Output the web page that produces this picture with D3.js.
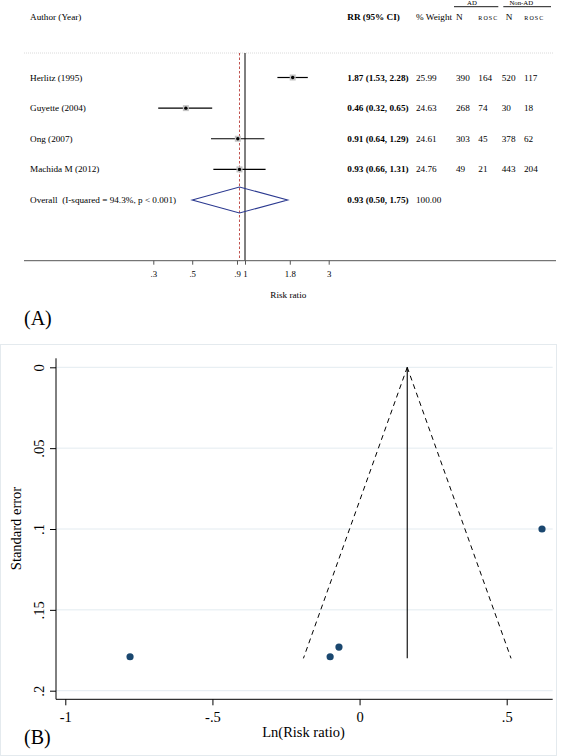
<!DOCTYPE html>
<html>
<head>
<meta charset="utf-8">
<script src="https://cdn.jsdelivr.net/npm/d3@7"></script>
<style>
  body { margin: 0; background: #fff; }
  text { font-family: "Liberation Serif", "Times New Roman", serif; fill: #000; }
</style>
</head>
<body>
<div id="chart"></div>
<script>
/* data for panel (A), forest plot */
var studies = ["Herlitz (1995)", "Guyette (2004)", "Ong (2007)", "Machida M (2012)"];
var rr = [1.87, 0.46, 0.91, 0.93];
var rrLow = [1.53, 0.32, 0.64, 0.66];
var rrHigh = [2.28, 0.65, 1.29, 1.31];
var weights = ["25.99", "24.63", "24.61", "24.76"];
var adN = [390, 268, 303, 49];
var adRosc = [164, 74, 45, 21];
var nonAdN = [520, 30, 378, 443];
var nonAdRosc = [117, 18, 62, 204];
var overallLabel = "Overall  (I-squared = 94.3%, p < 0.001)";
var overallRR = [0.93, 0.50, 1.75];   // estimate, low, high
var overallWeight = "100.00";
var forestTicks = [0.3, 0.5, 0.9, 1, 1.8, 3];

/* data for panel (B), funnel plot */
var lnRR = [0.62, -0.78, -0.10, -0.07];
var stdErr = [0.100, 0.179, 0.179, 0.173];
var pooledLn = 0.162;
var funnelMaxSE = 0.18;
var funnelXTicks = [-1, -0.5, 0, 0.5];
var funnelYTicks = [0, 0.05, 0.1, 0.15, 0.2];

var W = 567, H = 756;
var svg = d3.select("#chart").append("svg")
    .attr("width", W)
    .attr("height", H);

drawForest(svg);
drawFunnel(svg);

/*
 * Panel (A): forest plot with the study table on the right
 */
function drawForest(svg){
    var g = svg.append("g");
    var x = d3.scaleLog().domain([0.3, 3]).range([153.3, 328.7]);
    var rowY = d3.scalePoint().domain(d3.range(5)).range([77.5, 200]);
    var top = 53, axisY = 260.7;
    var fs = 9.2;

    // header
    g.append("text").attr("x", 30).attr("y", 20).attr("font-size", fs).text("Author (Year)");
    g.append("text").attr("x", 347.3).attr("y", 20).attr("font-size", fs)
        .attr("font-weight", "bold").text("RR (95% CI)");
    g.append("text").attr("x", 416).attr("y", 20).attr("font-size", fs).text("% Weight");
    g.append("text").attr("x", 456).attr("y", 20).attr("font-size", fs).text("N");
    g.append("text").attr("x", 505.7).attr("y", 20).attr("font-size", fs).text("N");
    [478.3, 524.3].forEach(function(px){
        g.append("text").attr("x", px).attr("y", 19.5).attr("font-size", 6)
            .attr("letter-spacing", 1.1).text("ROSC");
    });
    g.append("text").attr("x", 472).attr("y", 5).attr("font-size", 6.8)
        .attr("text-anchor", "middle").text("AD");
    g.append("text").attr("x", 521.3).attr("y", 5).attr("font-size", 6.8)
        .attr("text-anchor", "middle").text("Non-AD");
    g.append("line").attr("x1", 454).attr("x2", 498.3).attr("y1", 6.7).attr("y2", 6.7)
        .attr("stroke", "#000").attr("stroke-width", 0.9);
    g.append("line").attr("x1", 503.3).attr("x2", 551).attr("y1", 6.7).attr("y2", 6.7)
        .attr("stroke", "#000").attr("stroke-width", 0.9);

    // separator below header
    g.append("line").attr("x1", 24).attr("x2", 554).attr("y1", top).attr("y2", top)
        .attr("stroke", "#d0d0d0").attr("stroke-width", 0.8).attr("stroke-dasharray", "1,1");

    // no-effect line and overall line
    g.append("line").attr("x1", x(1)).attr("x2", x(1)).attr("y1", top).attr("y2", axisY)
        .attr("stroke", "#000").attr("stroke-width", 1);
    g.append("line").attr("x1", x(overallRR[0])).attr("x2", x(overallRR[0]))
        .attr("y1", top).attr("y2", axisY)
        .attr("stroke", "#c0504d").attr("stroke-width", 1).attr("stroke-dasharray", "2.5,2");

    // study rows
    var rows = studies.map(function(s, i){
        return {label: s, rr: rr[i], lo: rrLow[i], hi: rrHigh[i], w: weights[i],
                cells: [adN[i], adRosc[i], nonAdN[i], nonAdRosc[i]], i: i};
    });

    g.selectAll(".ci").data(rows).enter().append("line")
        .attr("x1", function(d){ return x(d.lo); })
        .attr("x2", function(d){ return x(d.hi); })
        .attr("y1", function(d){ return rowY(d.i); })
        .attr("y2", function(d){ return rowY(d.i); })
        .attr("stroke", "#000").attr("stroke-width", 1.2);
    g.selectAll(".box").data(rows).enter().append("rect")
        .attr("x", function(d){ return x(d.rr) - 3; })
        .attr("y", function(d){ return rowY(d.i) - 3; })
        .attr("width", 6).attr("height", 6)
        .attr("fill", "#c4c4c4");
    g.selectAll(".dot").data(rows).enter().append("circle")
        .attr("cx", function(d){ return x(d.rr); })
        .attr("cy", function(d){ return rowY(d.i); })
        .attr("r", 1.7).attr("fill", "#000");

    var cellX = [456, 478.3, 501.7, 524];
    rows.forEach(function(d){
        var y = rowY(d.i) + 3;
        g.append("text").attr("x", 30).attr("y", y).attr("font-size", fs).text(d.label);
        g.append("text").attr("x", 347.3).attr("y", y).attr("font-size", fs)
            .attr("font-weight", "bold")
            .text(d.rr.toFixed(2) + " (" + d.lo.toFixed(2) + ", " + d.hi.toFixed(2) + ")");
        g.append("text").attr("x", 416).attr("y", y).attr("font-size", fs).text(d.w);
        d.cells.forEach(function(v, k){
            g.append("text").attr("x", cellX[k]).attr("y", y).attr("font-size", fs).text(v);
        });
    });

    // overall diamond
    var oy = rowY(4);
    var diamond = [[x(overallRR[1]), oy], [x(overallRR[0]), oy - 13],
                   [x(overallRR[2]), oy], [x(overallRR[0]), oy + 13]];
    g.append("polygon")
        .attr("points", diamond.map(function(p){ return p.join(","); }).join(" "))
        .attr("fill", "none").attr("stroke", "#2b3990").attr("stroke-width", 1.1);
    g.append("text").attr("x", 30).attr("y", oy + 3).attr("font-size", fs)
        .style("white-space", "pre").text(overallLabel);
    g.append("text").attr("x", 347.3).attr("y", oy + 3).attr("font-size", fs)
        .attr("font-weight", "bold")
        .text(overallRR[0].toFixed(2) + " (" + overallRR[1].toFixed(2) + ", " + overallRR[2].toFixed(2) + ")");
    g.append("text").attr("x", 416).attr("y", oy + 3).attr("font-size", fs).text(overallWeight);

    // axis
    g.append("line").attr("x1", 24).attr("x2", 556).attr("y1", axisY).attr("y2", axisY)
        .attr("stroke", "#555").attr("stroke-width", 1);
    var ax = g.append("g").attr("transform", "translate(0," + axisY + ")")
        .call(d3.axisBottom(x).tickValues(forestTicks).tickSize(4)
            .tickFormat(function(d){ return String(d).replace(/^0\./, "."); }));
    ax.select(".domain").remove();
    ax.selectAll("line").attr("stroke", "#555");
    ax.selectAll("text").attr("font-family", "Liberation Serif").attr("font-size", 8.8)
        .attr("y", 10).attr("dy", "0.71em").attr("fill", "#000");
    g.append("text").attr("x", 288.3).attr("y", 297.5).attr("font-size", fs)
        .attr("text-anchor", "middle").text("Risk ratio");

    svg.append("text").attr("x", 24).attr("y", 325).attr("font-size", 20).text("(A)");
}

/*
 * Panel (B): funnel plot of Ln(RR) against its standard error
 */
function drawFunnel(svg){
    var g = svg.append("g");
    var x = d3.scaleLinear().domain([-1, 0.5]).range([65.3, 506.7]);
    var y = d3.scaleLinear().domain([0, 0.2]).range([367.3, 690.7]);
    var left = 56, right = 552.7, bottom = 699.3, top = 358.3;
    var fmt = function(d){ return d === 0 ? "0" : String(d).replace("0.", "."); };

    // faint outer frame
    g.append("rect").attr("x", 0.5).attr("y", 344.5).attr("width", 556).attr("height", 411)
        .attr("fill", "none").attr("stroke", "#e4eaee").attr("stroke-width", 1);

    // gridlines
    g.selectAll(".grid").data(funnelYTicks).enter().append("line")
        .attr("x1", left).attr("x2", right)
        .attr("y1", function(d){ return y(d); })
        .attr("y2", function(d){ return y(d); })
        .attr("stroke", "#e3ebf0").attr("stroke-width", 1);

    // pseudo 95% limits
    var apex = [x(pooledLn), y(0)];
    g.append("line").attr("x1", apex[0]).attr("y1", apex[1])
        .attr("x2", x(pooledLn - 1.96 * funnelMaxSE)).attr("y2", y(funnelMaxSE))
        .attr("stroke", "#000").attr("stroke-width", 1).attr("stroke-dasharray", "5,4");
    g.append("line").attr("x1", apex[0]).attr("y1", apex[1])
        .attr("x2", x(pooledLn + 1.96 * funnelMaxSE)).attr("y2", y(funnelMaxSE))
        .attr("stroke", "#000").attr("stroke-width", 1).attr("stroke-dasharray", "5,4");
    g.append("line").attr("x1", apex[0]).attr("x2", apex[0])
        .attr("y1", y(0)).attr("y2", y(funnelMaxSE))
        .attr("stroke", "#000").attr("stroke-width", 1.1);

    // studies
    g.selectAll(".pt").data(lnRR).enter().append("circle")
        .attr("cx", function(d){ return x(d); })
        .attr("cy", function(d, i){ return y(stdErr[i]); })
        .attr("r", 3.6).attr("fill", "#1a476f");

    // axes
    g.append("line").attr("x1", left).attr("x2", left).attr("y1", top).attr("y2", bottom)
        .attr("stroke", "#000").attr("stroke-width", 1);
    g.append("line").attr("x1", left).attr("x2", right).attr("y1", bottom).attr("y2", bottom)
        .attr("stroke", "#000").attr("stroke-width", 1);

    var ya = g.append("g").attr("transform", "translate(" + left + ",0)")
        .call(d3.axisLeft(y).tickValues(funnelYTicks).tickSize(6).tickFormat(fmt));
    ya.select(".domain").remove();
    ya.selectAll("line").attr("stroke", "#000");
    ya.selectAll("text").attr("font-family", "Liberation Serif").attr("font-size", 14.5)
        .attr("fill", "#000").attr("transform", "rotate(-90)")
        .attr("x", 0).attr("y", -12).attr("dy", 0).attr("text-anchor", "middle");

    var xa = g.append("g").attr("transform", "translate(0," + bottom + ")")
        .call(d3.axisBottom(x).tickValues(funnelXTicks).tickSize(6).tickFormat(fmt));
    xa.select(".domain").remove();
    xa.selectAll("line").attr("stroke", "#000");
    xa.selectAll("text").attr("font-family", "Liberation Serif").attr("font-size", 14.5)
        .attr("fill", "#000").attr("y", 12).attr("dy", "0.71em");

    g.append("text").attr("transform", "translate(21,528.5) rotate(-90)")
        .attr("text-anchor", "middle").attr("font-size", 14.5).text("Standard error");
    g.append("text").attr("x", 303.5).attr("y", 737).attr("text-anchor", "middle")
        .attr("font-size", 14.5).text("Ln(Risk ratio)");

    svg.append("text").attr("x", 24).attr("y", 744).attr("font-size", 20).text("(B)");
}
</script>
</body>
</html>
